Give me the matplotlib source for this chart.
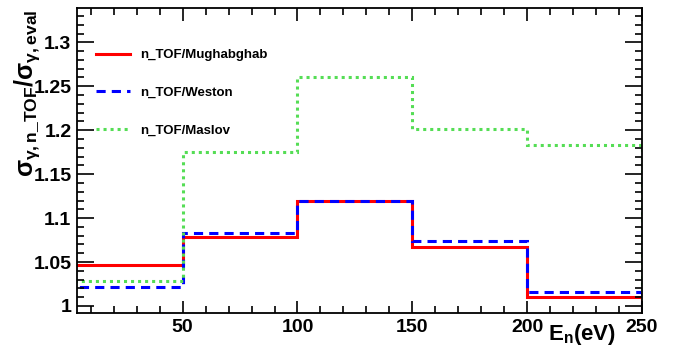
import numpy as np
import matplotlib
matplotlib.use("Agg")
import matplotlib.pyplot as plt
from matplotlib.ticker import MultipleLocator, FormatStrFormatter

plt.rcParams['font.family'] = ['Liberation Sans', 'DejaVu Sans']
plt.rcParams['font.weight'] = 'bold'
plt.rcParams['mathtext.fontset'] = 'custom'
plt.rcParams['mathtext.rm'] = 'Liberation Sans:bold'
plt.rcParams['mathtext.it'] = 'Liberation Sans:bold'
plt.rcParams['mathtext.bf'] = 'Liberation Sans:bold'

# bin edges (eV) and ratios
edges = [0, 50, 100, 150, 200, 250]
mughabghab = [1.047, 1.078, 1.120, 1.067, 1.010]
weston = [1.022, 1.083, 1.119, 1.074, 1.016]
maslov = [1.028, 1.175, 1.261, 1.201, 1.183]

fig = plt.figure(figsize=(6.84, 3.51), dpi=100)
ax = fig.add_axes([0.1126, 0.1083, 0.8260, 0.8687])

ax.stairs(mughabghab, edges, color='#ff0000', lw=2.2, label='n_TOF/Mughabghab')
ax.stairs(weston, edges, color='#0000ff', lw=2.2, ls=(0, (3, 2)), label='n_TOF/Weston')
ax.stairs(maslov, edges, color='#55dd55', lw=2.2, ls=(0, (1, 1.3)), label='n_TOF/Maslov')

ax.set_xlim(4, 250)
ax.set_ylim(0.992, 1.339)

ax.xaxis.set_major_locator(MultipleLocator(50))
ax.xaxis.set_minor_locator(MultipleLocator(10))
ax.yaxis.set_major_locator(MultipleLocator(0.05))
ax.yaxis.set_minor_locator(MultipleLocator(0.01))
ax.yaxis.set_major_formatter(FormatStrFormatter('%g'))

ax.tick_params(which='both', direction='in', top=True, right=True,
               labelsize=14, width=1.2, pad=4)
ax.tick_params(which='major', axis='y', length=12)
ax.tick_params(which='major', axis='x', length=9)
ax.tick_params(which='minor', length=5)
for lab in ax.get_xticklabels() + ax.get_yticklabels():
    lab.set_fontweight('bold')
for sp in ax.spines.values():
    sp.set_linewidth(1.3)

ax.set_ylabel(r'$\sigma_{\gamma,\mathrm{n\_TOF}}/\sigma_{\gamma,\mathrm{eval}}$',
              fontsize=18)
ax.yaxis.set_label_coords(-0.062, 0.72)
fig.text(0.801, 0.03, r'$\mathrm{E_n(eV)}$', fontsize=16)

leg = ax.legend(loc='upper left', bbox_to_anchor=(0.012, 0.905), frameon=False,
                handlelength=2.6, labelspacing=1.95,
                prop={'weight': 'bold', 'size': 9.5})

fig.savefig('out.png', dpi=100)
